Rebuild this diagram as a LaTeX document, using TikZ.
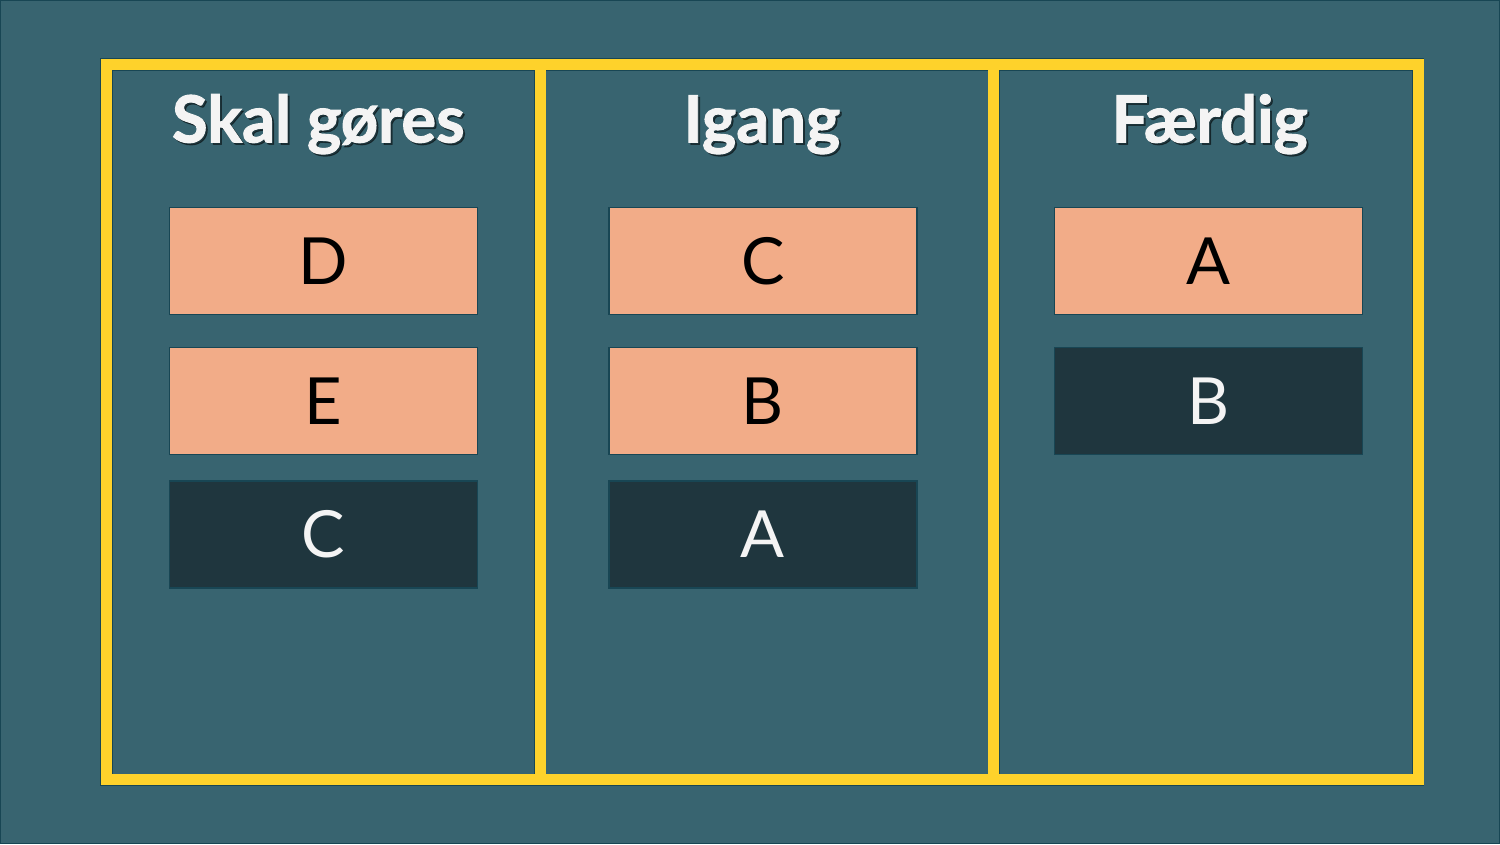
\documentclass[tikz,border=0pt]{standalone}
\usepackage{fontspec}
\setmainfont{Lato}[BoldFeatures={FakeBold=1.5}]
\usepackage{tikz}
\usetikzlibrary{positioning}
\definecolor{TavleBaggrund}{RGB}{56,100,112}
\definecolor{TavleKant}{RGB}{24,70,84}
\definecolor{RammeGul}{RGB}{254,210,43}
\definecolor{KortLaks}{RGB}{242,172,136}
\definecolor{KortMoerk}{RGB}{31,54,62}
\definecolor{TekstHvid}{RGB}{244,244,244}
\begin{document}
\begin{tikzpicture}[x=0.01cm,y=-0.01cm,
  kort/.style={draw=TavleKant,line width=0.4pt,minimum width=3.08cm,minimum height=1.07cm,
    inner sep=0pt,font=\fontsize{18.5}{20}\selectfont},
  aaben/.style={kort,fill=KortLaks,text=black},
  lukket/.style={kort,fill=KortMoerk,text=TekstHvid},
  overskrift/.style={anchor=base,text=TekstHvid,font=\fontsize{18.5}{20}\selectfont\bfseries},
  skygge/.style={anchor=base,text=black,opacity=0.45,font=\fontsize{18.5}{20}\selectfont\bfseries}]
  % baggrund
  \fill[TavleBaggrund,draw=TavleKant,line width=0.3pt] (0,0) rectangle (1500,844);
  \useasboundingbox (0,0) rectangle (1500,844);
  \coordinate (NV) at (106,64);
  \coordinate (SO) at (1418.5,780);
  \coordinate (D1top) at (540,64);
  \coordinate (D1bund) at (540,780);
  \coordinate (D2top) at (994,64);
  \coordinate (D2bund) at (994,780);
  % ramme og skillelinjer
  \draw[TavleKant,line width=0.125cm] (NV) rectangle (SO);
  \draw[TavleKant,line width=0.125cm] (D1top)--(D1bund) (D2top)--(D2bund);
  \draw[RammeGul,line width=0.11cm] (NV) rectangle (SO);
  \draw[RammeGul,line width=0.11cm] (D1top)--(D1bund) (D2top)--(D2bund);
  % overskrifter
  \foreach \x/\navn/\tekst in {318/todo/Skal gøres,762/doing/Igang,1210/done/Færdig}{
    \node[skygge] (\navn skygge) at (\x+2,144) {\tekst};
    \node[overskrift] (\navn) at (\x,142) {\tekst};
  }
  % kort
  \node[aaben] (todoD) at (323,260.5) {D};
  \node[aaben] (todoE) at (323,400.5) {E};
  \node[lukket] (todoC) at (323,534.5) {C};
  \node[aaben] (doingC) at (763,260.5) {C};
  \node[aaben] (doingB) at (763,400.5) {B};
  \node[lukket] (doingA) at (763,534.5) {A};
  \node[aaben] (doneA) at (1209,260.5) {A};
  \node[lukket] (doneB) at (1209,400.5) {B};
\end{tikzpicture}
\end{document}
